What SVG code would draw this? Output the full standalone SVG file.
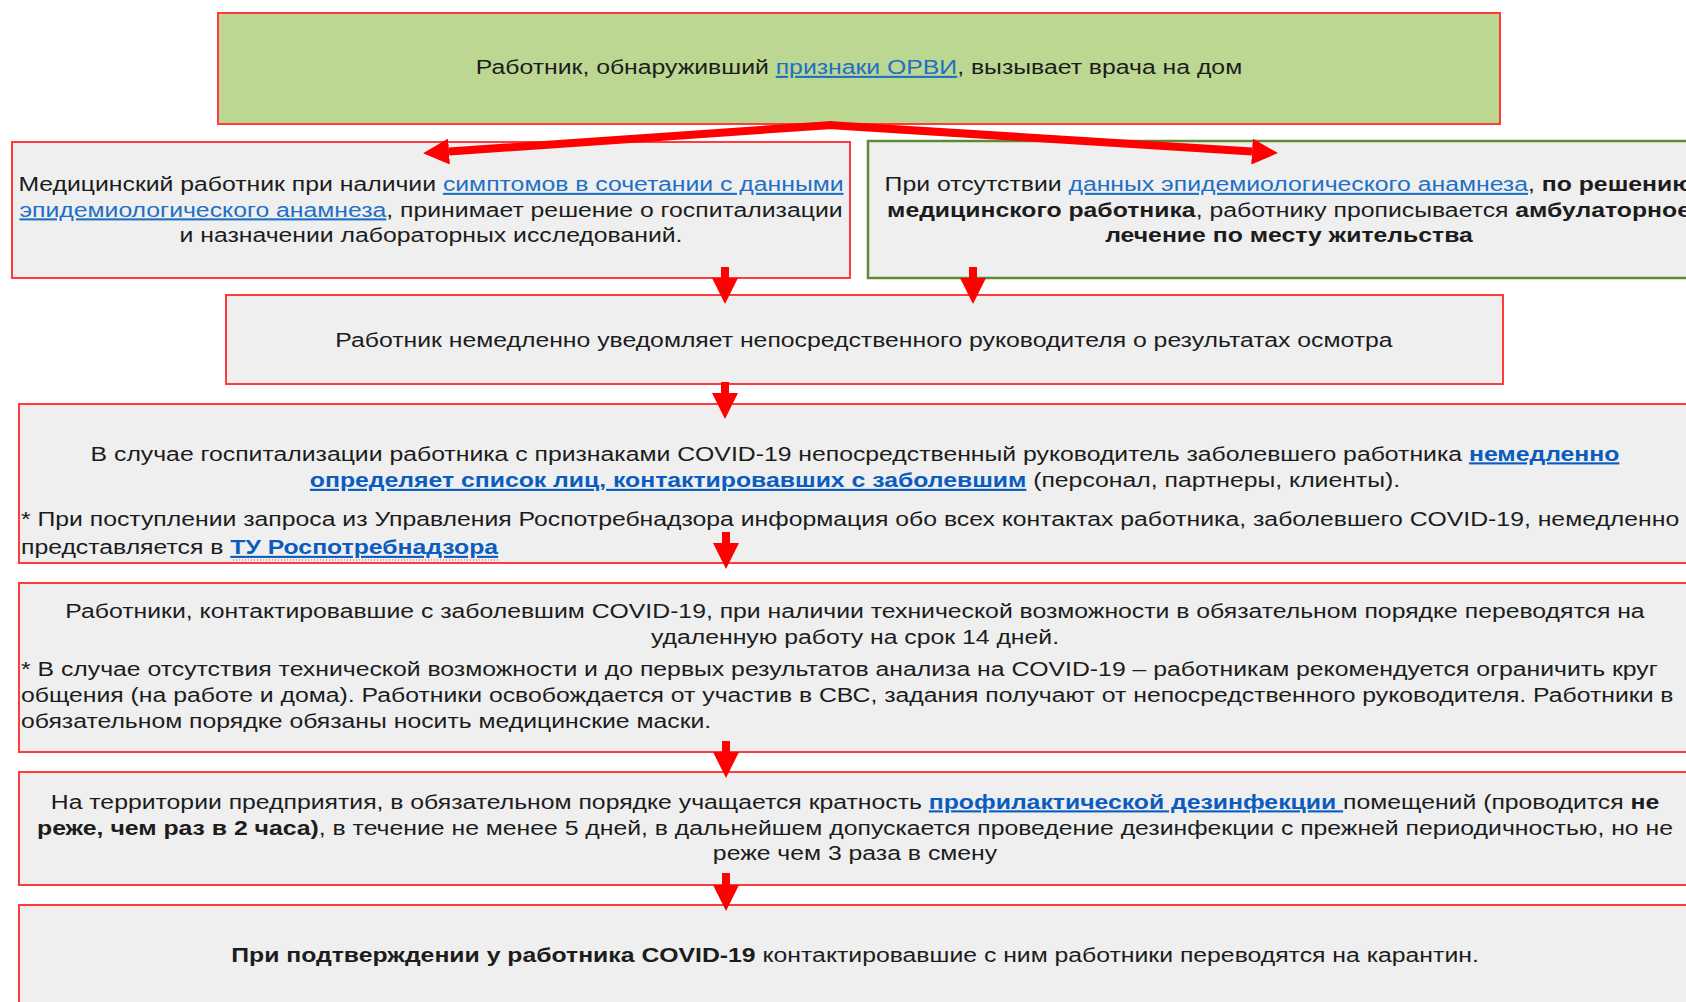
<svg xmlns="http://www.w3.org/2000/svg" width="1686" height="1002" viewBox="0 0 1686 1002">
<style>
.box{fill:#efefef;stroke:#ff3b3b;stroke-width:2}
.green{fill:#efefef;stroke:#5b8c35;stroke-width:2.5}
.top{fill:#bbd791;stroke:#ff3b3b;stroke-width:2}
.t{font-family:"Liberation Sans",Arial,sans-serif;font-size:21px;fill:#1c1c1c}
.m{text-anchor:middle}
.b{font-weight:bold}
.lnk{fill:#1f6fc6;text-decoration:underline}
.bl{fill:#0b5cbf;font-weight:bold;text-decoration:underline}
.arr{stroke:#ff0000;stroke-width:8;fill:none;marker-end:url(#ah)}
</style>
<defs>
<marker id="ah" markerUnits="userSpaceOnUse" markerWidth="26" markerHeight="26" viewBox="0 0 26 26" refX="0" refY="13" orient="auto">
<path d="M0,0 L26,13 L0,26 z" fill="#ff0000"/>
</marker>
</defs>
<rect width="1686" height="1002" fill="#ffffff"/>

<g id="n1">
<rect class="top" x="218" y="13" width="1282" height="111"/>
<text class="t m" transform="translate(859,74) scale(1.18,1)">Работник, обнаруживший <tspan class="lnk">признаки ОРВИ</tspan>, вызывает врача на дом</text>
</g>

<g id="n2">
<rect class="box" x="12" y="142" width="838" height="136"/>
<text class="t m" transform="translate(431,191) scale(1.18,1)">Медицинский работник при наличии <tspan class="lnk">симптомов в сочетании с данными</tspan></text>
<text class="t m" transform="translate(431,216.5) scale(1.18,1)"><tspan class="lnk">эпидемиологического анамнеза</tspan>, принимает решение о госпитализации</text>
<text class="t m" transform="translate(431,242) scale(1.18,1)">и назначении лабораторных исследований.</text>
</g>

<g id="n3">
<rect class="green" x="868" y="141" width="838" height="137"/>
<text class="t m" transform="translate(1289,191) scale(1.18,1)">При отсутствии <tspan class="lnk">данных эпидемиологического анамнеза</tspan>, <tspan class="b">по решению</tspan></text>
<text class="t m" transform="translate(1289,216.5) scale(1.18,1)"><tspan class="b">медицинского работника</tspan>, работнику прописывается <tspan class="b">амбулаторное</tspan></text>
<text class="t m b" transform="translate(1289,242) scale(1.18,1)">лечение по месту жительства</text>
</g>

<g id="n4">
<rect class="box" x="226" y="295" width="1277" height="89"/>
<text class="t m" transform="translate(864,347) scale(1.18,1)">Работник немедленно уведомляет непосредственного руководителя о результатах осмотра</text>
</g>

<g id="n5">
<rect class="box" x="19" y="404" width="1681" height="159"/>
<text class="t m" transform="translate(855,460.5) scale(1.18,1)">В случае госпитализации работника с признаками COVID-19 непосредственный руководитель заболевшего работника <tspan class="bl">немедленно</tspan></text>
<text class="t m" transform="translate(855,487) scale(1.18,1)"><tspan class="bl">определяет список лиц, контактировавших с заболевшим</tspan> (персонал, партнеры, клиенты).</text>
<text class="t" transform="translate(21,525.5) scale(1.18,1)">* При поступлении запроса из Управления Роспотребнадзора информация обо всех контактах работника, заболевшего COVID-19, немедленно</text>
<text class="t" transform="translate(21,554) scale(1.18,1)">представляется в <tspan class="bl">ТУ Роспотребнадзора</tspan></text>
<line x1="233" y1="560" x2="500" y2="560" stroke="#ff4040" stroke-width="1" stroke-dasharray="1,2"/>
</g>

<g id="n6">
<rect class="box" x="19" y="583" width="1681" height="169"/>
<text class="t m" transform="translate(855,618) scale(1.18,1)">Работники, контактировавшие с заболевшим COVID-19, при наличии технической возможности в обязательном порядке переводятся на</text>
<text class="t m" transform="translate(855,644) scale(1.18,1)">удаленную работу на срок 14 дней.</text>
<text class="t" transform="translate(21,676) scale(1.18,1)">* В случае отсутствия технической возможности и до первых результатов анализа на COVID-19 – работникам рекомендуется ограничить круг</text>
<text class="t" transform="translate(21,702) scale(1.18,1)">общения (на работе и дома). Работники освобождается от участив в СВС, задания получают от непосредственного руководителя. Работники в</text>
<text class="t" transform="translate(21,728) scale(1.18,1)">обязательном порядке обязаны носить медицинские маски.</text>
</g>

<g id="n7">
<rect class="box" x="19" y="772" width="1681" height="113"/>
<text class="t m" transform="translate(855,808.5) scale(1.18,1)">На территории предприятия, в обязательном порядке учащается кратность <tspan class="bl">профилактической дезинфекции </tspan>помещений (проводится <tspan class="b">не</tspan></text>
<text class="t m" transform="translate(855,834.5) scale(1.18,1)"><tspan class="b">реже, чем раз в 2 часа)</tspan>, в течение не менее 5 дней, в дальнейшем допускается проведение дезинфекции с прежней периодичностью, но не</text>
<text class="t m" transform="translate(855,859.5) scale(1.18,1)">реже чем 3 раза в смену</text>
</g>

<g id="n8">
<rect class="box" x="19" y="905" width="1681" height="130"/>
<text class="t m" transform="translate(855,962) scale(1.18,1)"><tspan class="b">При подтверждении у работника COVID-19</tspan> контактировавшие с ним работники переводятся на карантин.</text>
</g>

<g id="connectors">
<path class="arr" d="M832,125 L449,151.5"/>
<path class="arr" d="M828,125 L1252,151.5"/>
<line class="arr" x1="725" y1="267" x2="725" y2="278"/>
<line class="arr" x1="973" y1="267" x2="973" y2="278"/>
<line class="arr" x1="725" y1="382" x2="725" y2="393"/>
<line class="arr" x1="726" y1="532" x2="726" y2="543"/>
<line class="arr" x1="726" y1="741" x2="726" y2="752"/>
<line class="arr" x1="726" y1="873" x2="726" y2="885"/>
</g>
</svg>
